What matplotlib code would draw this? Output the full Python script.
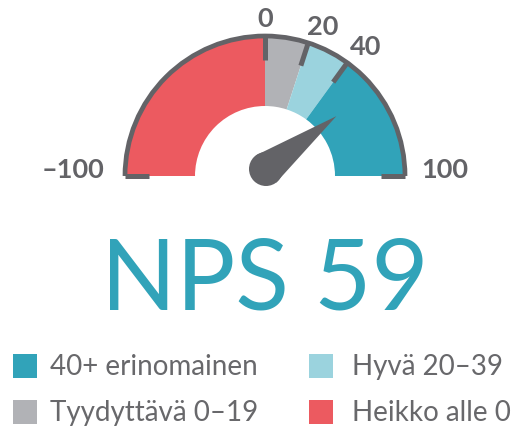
import matplotlib.pyplot as plt
import numpy as np
from matplotlib.patches import Wedge, Arc, Circle, Polygon, Rectangle

# --- data ---
bounds = [-100, 0, 20, 40, 100]
seg_colors = ["#ec5a60", "#b1b2b6", "#9bd3de", "#31a3b9"]
tick_values = [-100, 0, 20, 40, 100]
tick_labels = ["\u2013100", "0", "20", "40", "100"]
nps = 59
legend_labels = ["40+ erinomainen", "Hyvä 20\u201339", "Tyydyttävä 0\u201319", "Heikko alle 0"]
legend_colors = ["#31a3b9", "#9bd3de", "#b1b2b6", "#ec5a60"]

DARK = "#636367"
TEAL = "#31a3b9"
FONT = "Lato"

W, H = 513, 431
fig = plt.figure(figsize=(W / 100, H / 100), dpi=100)
ax = fig.add_axes([0, 0, 1, 1])
ax.set_xlim(0, W)
ax.set_ylim(0, H)
ax.axis("off")

cx, cy = 265, 254
r_out, r_in = 140, 70


def ang(v):
    return 90 - v * 0.9


# gauge segments
for lo, hi, c in zip(bounds[:-1], bounds[1:], seg_colors):
    ax.add_patch(Wedge((cx, cy), r_out, ang(hi), ang(lo), width=r_out - r_in,
                       facecolor=c, edgecolor="none"))

# outer rim
ax.add_patch(Arc((cx, cy), 2 * r_out, 2 * r_out, theta1=0, theta2=180,
                 color=DARK, lw=3.4))

# ticks + labels
label_pos = {-100: (73, 261), 100: (445, 261), 0: (265, 412),
             20: (323, 404), 40: (366, 384)}
for v, lab in zip(tick_values, tick_labels):
    a = np.radians(ang(v))
    x0, y0 = cx + r_out * np.cos(a), cy + r_out * np.sin(a)
    x1, y1 = cx + (r_out - 24) * np.cos(a), cy + (r_out - 24) * np.sin(a)
    ax.plot([x0, x1], [y0, y1], color=DARK, lw=3.6, solid_capstyle="butt")
    tx, ty = label_pos[v]
    ax.text(tx, ty, lab, ha="center", va="center", fontsize=19.5,
            fontweight="bold", color=DARK, family=FONT)

# needle
a = np.radians(ang(nps))
bx, by, br = cx + 1, cy + 7, 17
tip = (bx + 88 * np.cos(a), by + 88 * np.sin(a))
perp = a + np.pi / 2
p1 = (bx + br * np.cos(perp), by + br * np.sin(perp))
p2 = (bx - br * np.cos(perp), by - br * np.sin(perp))
ax.add_patch(Polygon([p1, tip, p2], closed=True, facecolor=DARK, edgecolor="none"))
ax.add_patch(Circle((bx, by), br, facecolor=DARK, edgecolor="none"))

# big value
ax.text(cx, 121, f"NPS {nps}", ha="center", va="baseline", fontsize=71,
        color=TEAL, family=FONT)

# legend
pos = [(13, 64, 50), (309, 64, 352), (13, 18, 50), (309, 18, 352)]
for (x, y, tx), lab, c in zip(pos, legend_labels, legend_colors):
    ax.add_patch(Rectangle((x, y - 12), 24, 24, facecolor=c, edgecolor="none"))
    ax.text(tx, y, lab, ha="left", va="center", fontsize=20,
            color="#68686b", family=FONT)

fig.savefig("out.png", dpi=100)
